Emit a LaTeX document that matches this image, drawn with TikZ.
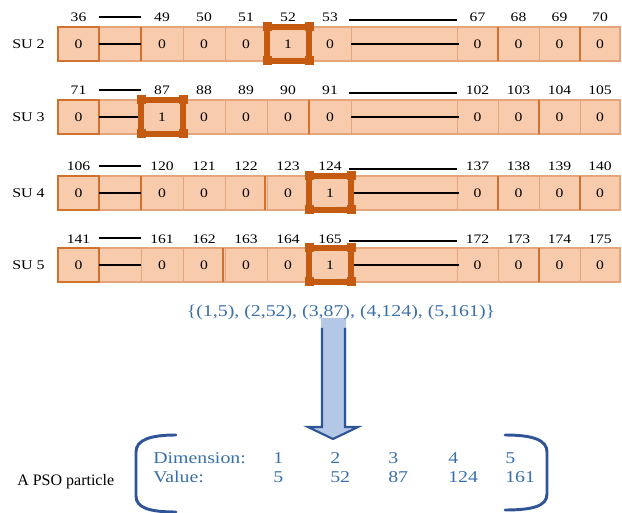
\documentclass[tikz,border=0pt]{standalone}
\usepackage{fontspec}
\setmainfont{Liberation Serif}
\newfontfamily\widefont[FakeStretch=1.2]{Liberation Serif}

\definecolor{cellfill}{HTML}{F8CBAD}
\definecolor{celledge}{HTML}{E4A47C}
\definecolor{celldark}{HTML}{D0722E}
\definecolor{hlorange}{HTML}{C55A11}
\definecolor{pairblue}{HTML}{3A70A8}
\definecolor{bracketblue}{HTML}{2F5597}
\definecolor{arrowfill}{HTML}{B4C7E7}

\tikzset{
  numlabel/.style={font=\widefont\fontsize{9.75}{11}\selectfont, inner sep=0pt, anchor=base},
  cellval/.style={font=\widefont\fontsize{9.75}{11}\selectfont, inner sep=0pt},
  sulabel/.style={font=\widefont\fontsize{10}{12}\selectfont, inner sep=0pt, anchor=east},
  bluetext/.style={font=\widefont\fontsize{12.4}{14}\selectfont, text=pairblue, inner sep=0pt},
  stripedge/.style={draw=celledge, line width=0.8pt},
  thindiv/.style={draw=celledge, line width=0.6pt},
  darkdiv/.style={draw=celldark, line width=1.3pt},
  firstcell/.style={draw=celldark, line width=1.2pt},
  hlframe/.style={draw=hlorange, line width=4.5pt},
  gapline/.style={draw=black, line width=1.8pt},
  bracket/.style={draw=bracketblue, line width=2.2pt, line cap=round},
}

\begin{document}
\begin{tikzpicture}[x=0.75pt,y=-0.75pt]
\useasboundingbox (0,0) rectangle (622,513);

% one strip of cells per SU row
\foreach \r/\T/\lb/\first/\mid/\last/\hl/\dark in {
  2/27/22/36/49/67/3/{141,498,580},
  3/100/95/71/87/102/0/{309,539},
  4/176/171/106/120/137/4/{141,265,498,580},
  5/248/244/141/161/172/4/{223,539}}
{
  \pgfmathsetmacro\B{\T+34}
  \pgfmathsetmacro\C{\T+17}
  \pgfmathsetmacro\Ua{\T-10}
  \pgfmathsetmacro\Ub{\T-7}
  % strip body and dividers
  \fill[cellfill] (58,\T) rectangle (620,\B);
  \foreach \x in {99,141,183,225,267,309,351,457,498,539,580}
    \draw[thindiv] (\x,\T) -- (\x,\B);
  \draw[stripedge] (58,\T) rectangle (620,\B);
  \foreach \x in \dark
    \draw[darkdiv] (\x,\T) -- (\x,\B);
  \draw[firstcell] (58,\T) rectangle (99,\B);
  % row name
  \node[sulabel] (su\r) at (45,\C) {SU \r};
  % first cell
  \node[cellval] (v\r-0) at (78.5,\C) {0};
  \node[numlabel] (n\r-0) at (78.5,\lb) {\first};
  % five cells after the first gap
  \foreach \k in {0,...,4} {
    \pgfmathtruncatemacro\num{\mid+\k}
    \pgfmathtruncatemacro\bit{\k==\hl ? 1 : 0}
    \pgfmathsetmacro\cx{162+42*\k}
    \node[numlabel] (n\r-m\k) at (\cx,\lb) {\num};
    \ifnum\bit=0 \node[cellval] (v\r-m\k) at (\cx,\C) {0}; \fi
  }
  % four cells after the second gap
  \foreach \k/\cx in {0/477.5,1/518.5,2/559.5,3/600} {
    \pgfmathtruncatemacro\num{\last+\k}
    \node[numlabel] (n\r-e\k) at (\cx,\lb) {\num};
    \node[cellval] (v\r-e\k) at (\cx,\C) {0};
  }
  % gap markers: inside the strip and above it
  \coordinate (ga\r) at (99,\C);
  \coordinate (gb\r) at (141,\C);
  \coordinate (gc\r) at (351,\C);
  \coordinate (gd\r) at (459,\C);
  \coordinate (ua\r) at (99,\Ua);
  \coordinate (ub\r) at (141,\Ua);
  \coordinate (uc\r) at (349,\Ub);
  \coordinate (ud\r) at (457,\Ub);
  \draw[gapline] (ga\r) -- (gb\r);
  \draw[gapline] (gc\r) -- (gd\r);
  \draw[gapline] (ua\r) -- (ub\r);
  \draw[gapline] (uc\r) -- (ud\r);
  % selected cell
  \pgfmathsetmacro\xa{141+42*\hl}
  \pgfmathsetmacro\xb{\xa+42}
  \pgfmathsetmacro\Tm{\T-3}
  \pgfmathsetmacro\Bp{\B+3}
  \pgfmathsetmacro\xam{\xa-3}
  \pgfmathsetmacro\xbp{\xb+3}
  \draw[hlframe] (\xam,\T) -- (\xbp,\T);
  \draw[hlframe] (\xam,\B) -- (\xbp,\B);
  \draw[hlframe] (\xa,\Tm) -- (\xa,\Bp);
  \draw[hlframe] (\xb,\Tm) -- (\xb,\Bp);
  \foreach \px/\py in {\xa/\T,\xb/\T,\xa/\B,\xb/\B}
    \fill[hlorange] (\px,\py) +(-4.5,-4.5) rectangle +(4.5,4.5);
  \pgfmathsetmacro\hx{\xa+21}
  \node[cellval] (hl\r) at (\hx,\C) {1};
}

% block arrow
\fill[arrowfill] (321,318) -- (321,427) -- (308,427) -- (333,439)
  -- (358,427) -- (346,427) -- (346,318) -- cycle;
\draw[draw=bracketblue, line width=1.6pt, line join=miter]
  (322,328) -- (322,427) -- (308,427) -- (333,439)
  -- (358,427) -- (345,427) -- (345,328);

% encoded pairs
\node[bluetext, anchor=base] (pairs) at (341,317)
  {\{(1,5), (2,52), (3,87), (4,124), (5,161)\}};

% particle
\node[anchor=base west, inner sep=0pt, font=\fontsize{12}{14}\selectfont] (pso) at (17,486) {A PSO particle};
\draw[bracket] (176,435) .. controls (150,435) and (136,440) .. (136,452)
  -- (136,496) .. controls (136,508) and (150,512) .. (176,512);
\draw[bracket] (505,435) .. controls (533,435) and (547,440) .. (547,452)
  -- (547,494) .. controls (547,506) and (533,510) .. (505,510);

\node[bluetext, anchor=base west] (dimlab) at (153,464) {Dimension:};
\node[bluetext, anchor=base west] (vallab) at (153,483) {Value:};
\foreach \d/\v/\x in {1/5/273, 2/52/330, 3/87/388, 4/124/448, 5/161/505} {
  \node[bluetext, anchor=base west] (dim\d) at (\x,464) {\d};
  \node[bluetext, anchor=base west] (val\d) at (\x,483) {\v};
}
\end{tikzpicture}
\end{document}
